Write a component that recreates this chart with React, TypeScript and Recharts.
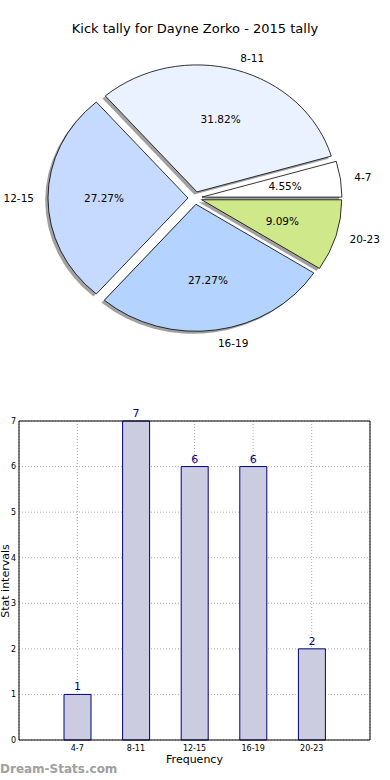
import React from "react";
import { PieChart, Pie, Cell, BarChart, Bar, XAxis, YAxis, CartesianGrid, LabelList } from "recharts";

const CATEGORIES = ["4-7", "8-11", "12-15", "16-19", "20-23"];
const COUNTS = [1, 7, 6, 6, 2];
const SLICE_COLORS = ["#ffffff", "#eaf1ff", "#c6d9ff", "#b4d4ff", "#cfe98a"];
const Y_TICKS = [0, 1, 2, 3, 4, 5, 6, 7];

const TOTAL = COUNTS.reduce((s, v) => s + v, 0);
const data = CATEGORIES.map((name, i) => ({ name, value: COUNTS[i] }));

const FONT = "'DejaVu Sans', sans-serif";
const X_STRETCH = 140 / 127; // matplotlib pie without equal aspect -> ellipse
const EXPLODE = 0.05;
const RAD = Math.PI / 180;

function ellPoint(cx: number, cy: number, rx: number, ry: number, deg: number) {
  return [cx + rx * Math.cos(deg * RAD), cy - ry * Math.sin(deg * RAD)];
}

function wedgePath(cx: number, cy: number, rx: number, ry: number, a0: number, a1: number) {
  const lo = Math.min(a0, a1);
  const hi = Math.max(a0, a1);
  const [x0, y0] = ellPoint(cx, cy, rx, ry, lo);
  const [x1, y1] = ellPoint(cx, cy, rx, ry, hi);
  const large = hi - lo > 180 ? 1 : 0;
  return `M${cx},${cy} L${x0},${y0} A${rx},${ry} 0 ${large} 0 ${x1},${y1} Z`;
}

function explodedCenter(cx: number, cy: number, r: number, mid: number) {
  return [cx + EXPLODE * r * X_STRETCH * Math.cos(mid * RAD), cy - EXPLODE * r * Math.sin(mid * RAD)];
}

function Wedge(props: any) {
  const { cx, cy, outerRadius, startAngle, endAngle, fill } = props;
  const mid = (startAngle + endAngle) / 2;
  const rx = outerRadius * X_STRETCH;
  const ry = outerRadius;
  const [ox, oy] = explodedCenter(cx, cy, outerRadius, mid);
  const d = wedgePath(ox, oy, rx, ry, startAngle, endAngle);
  return (
    <g>
      <path d={d} transform={`translate(${-0.02 * rx},${0.02 * ry})`} fill="#444" fillOpacity={0.5} />
      <path d={d} fill={fill} stroke="#000" strokeWidth={0.8} />
    </g>
  );
}

function pieLabel(props: any) {
  const { cx, cy, outerRadius, midAngle, index } = props;
  const rx = outerRadius * X_STRETCH;
  const ry = outerRadius;
  const [ox, oy] = explodedCenter(cx, cy, outerRadius, midAngle);
  const c = Math.cos(midAngle * RAD);
  const s = Math.sin(midAngle * RAD);
  const pct = ((COUNTS[index] / TOTAL) * 100).toFixed(2) + "%";
  return (
    <g>
      <text x={ox + 1.1 * rx * c} y={oy - 1.1 * ry * s} textAnchor={c > 0 ? "start" : "end"}
        dominantBaseline="central" fontSize={10.5} fontFamily={FONT} fill="#000">
        {CATEGORIES[index]}
      </text>
      <text x={ox + 0.6 * rx * c} y={oy - 0.6 * ry * s} textAnchor="middle"
        dominantBaseline="central" fontSize={10.5} fontFamily={FONT} fill="#000">
        {pct}
      </text>
    </g>
  );
}

export default function App() {
  return (
    <div style={{ position: "absolute", left: 0, top: 0, width: 390, height: 780, background: "#fff", fontFamily: FONT }}>
      <div style={{ position: "absolute", top: 21, left: 0, width: 390, textAlign: "center", fontSize: 13, color: "#000" }}>
        Kick tally for Dayne Zorko - 2015 tally
      </div>
      <div style={{ position: "absolute", top: 0, left: 0 }}>
        <PieChart width={390} height={370} margin={{ top: 0, right: 0, bottom: 0, left: 0 }}>
          <Pie data={data} dataKey="value" nameKey="name" cx={195} cy={198} outerRadius={127}
            startAngle={0} endAngle={360} shape={Wedge} label={pieLabel} labelLine={false}
            isAnimationActive={false}>
            {data.map((d, i) => (
              <Cell key={d.name} fill={SLICE_COLORS[i]} />
            ))}
          </Pie>
        </PieChart>
      </div>

      <div style={{ position: "absolute", top: 400, left: 0 }}>
        <BarChart width={390} height={380} data={data} margin={{ top: 20, right: 19, bottom: 20, left: 18 }}>
          <CartesianGrid stroke="#aaa" strokeDasharray="1 2" />
          <XAxis dataKey="name" padding={{ left: 29, right: 29 }} height={20} interval={0}
            tick={{ fontSize: 8, fill: "#000", fontFamily: FONT }} tickLine={false} tickSize={0} tickMargin={5}
            axisLine={{ stroke: "#000" }} />
          <XAxis xAxisId="top" orientation="top" dataKey="name" height={1} tick={false} tickLine={false}
            axisLine={{ stroke: "#000" }} />
          <YAxis domain={[0, 7]} ticks={Y_TICKS} width={1} interval={0}
            tick={{ fontSize: 8, fill: "#000", fontFamily: FONT }} tickLine={false} tickSize={0} tickMargin={3}
            axisLine={{ stroke: "#000" }} />
          <YAxis yAxisId="right" orientation="right" width={1} tick={false} tickLine={false}
            axisLine={{ stroke: "#000" }} />
          <Bar dataKey="value" fill="#cccce0" stroke="#000080" strokeWidth={1} barSize={27} isAnimationActive={false}>
            <LabelList dataKey="value" position="top" offset={4} fill="#00008b" fontSize={11} fontFamily={FONT} />
          </Bar>
        </BarChart>
      </div>

      <div style={{ position: "absolute", left: 6 - 60, top: 581 - 8, width: 120, height: 16, transform: "rotate(-90deg)",
        textAlign: "center", fontSize: 11, lineHeight: "16px", color: "#000" }}>
        Stat intervals
      </div>
      <div style={{ position: "absolute", left: 0, top: 753, width: 389, textAlign: "center", fontSize: 11, color: "#000" }}>
        Frequency
      </div>
      <div style={{ position: "absolute", left: 0, top: 762, fontSize: 12, fontWeight: 600, color: "#a0a0a0" }}>
        Dream-Stats.com
      </div>
    </div>
  );
}
